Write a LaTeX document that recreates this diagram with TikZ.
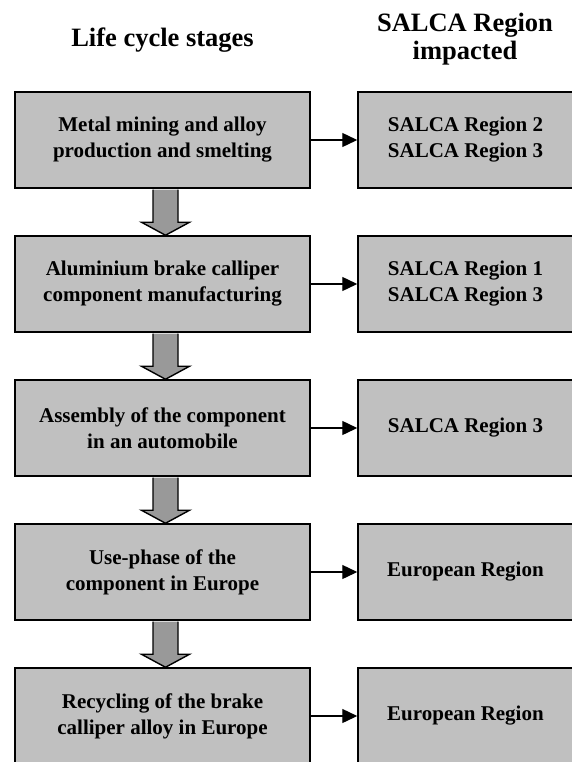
\documentclass[tikz,border=0pt]{standalone}
\usepackage{fontspec}
\setmainfont{Liberation Serif}
\usetikzlibrary{arrows.meta,calc}
\definecolor{boxgrey}{HTML}{C0C0C0}
\definecolor{arrowgrey}{HTML}{999999}
\begin{document}
\begin{tikzpicture}[x=1bp,y=1bp,
  stagebox/.style={draw=black,line width=1.5bp,fill=boxgrey,minimum width=295bp,minimum height=96bp,
    align=center,font=\bfseries\fontsize{21bp}{26bp}\selectfont,inner sep=0pt},
  regionbox/.style={stagebox,minimum width=215bp},
  titletext/.style={align=center,font=\bfseries\fontsize{26.5bp}{28bp}\selectfont,inner sep=0pt},
  flowarrow/.style={line width=1.4bp,-{Triangle[length=15bp,width=14bp]}},
  blockarrow/.style={draw=black,line width=1.4bp,fill=arrowgrey,line join=miter}]
\useasboundingbox (0,0) rectangle (572,-762);
\clip (0,0) rectangle (572,-762);

\node[titletext,anchor=base] (t1) at (162.5,-47) {Life cycle stages};
\node[titletext] (t2) at (465,-39) {SALCA Region\\impacted};

\node[stagebox] (L1) at (162.5,-140) {Metal mining and alloy\\production and smelting};
\node[stagebox] (L2) at (162.5,-284) {Aluminium brake calliper\\component manufacturing};
\node[stagebox] (L3) at (162.5,-428) {Assembly of the component\\in an automobile};
\node[stagebox] (L4) at (162.5,-572) {Use-phase of the\\component in Europe};
\node[stagebox] (L5) at (162.5,-716) {Recycling of the brake\\calliper alloy in Europe};

\node[regionbox] (R1) at (465.5,-140) {SALCA Region 2\\SALCA Region 3};
\node[regionbox] (R2) at (465.5,-284) {SALCA Region 1\\SALCA Region 3};
\node[regionbox] (R3) at (465.5,-428) {SALCA Region 3};
\node[regionbox] (R4) at (465.5,-572) {European Region};
\node[regionbox] (R5) at (465.5,-716) {European Region};

\foreach \i in {1,...,5}{
  \draw[flowarrow] (L\i.east) -- (R\i.west);
}

\foreach \a/\b in {L1/L2,L2/L3,L3/L4,L4/L5}{
  \draw[blockarrow] let \p1=(\a.south), \p2=(\b.north) in
    (\x1+3bp-12.5bp,\y1-0.75bp) -- (\x1+3bp-12.5bp,\y2+13bp) -- (\x1+3bp-24bp,\y2+13bp)
    -- (\x1+3bp,\y2) -- (\x1+3bp+24bp,\y2+13bp) -- (\x1+3bp+12.5bp,\y2+13bp)
    -- (\x1+3bp+12.5bp,\y1-0.75bp);
}
\end{tikzpicture}
\end{document}
